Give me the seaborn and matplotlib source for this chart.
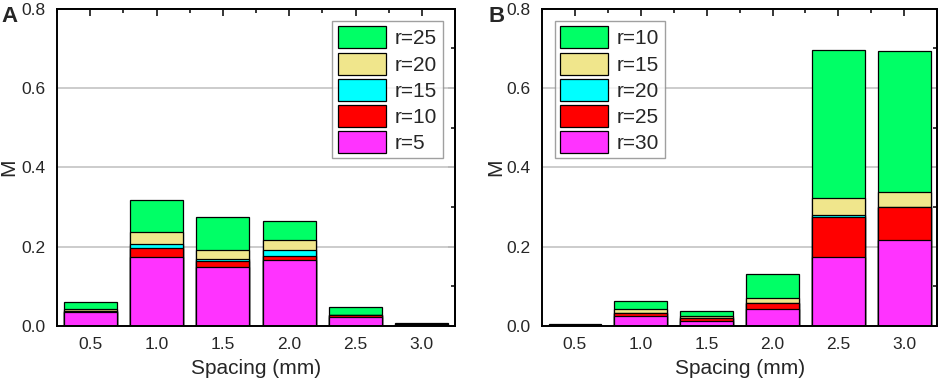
import numpy as np
import pandas as pd
import matplotlib
matplotlib.use("Agg")
import matplotlib.pyplot as plt
from matplotlib.patches import Patch
from matplotlib.ticker import MultipleLocator, FixedLocator, NullFormatter
import seaborn as sns

sns.set_style("white")
plt.rcParams['font.family'] = ['Liberation Sans', 'DejaVu Sans']

spacing = ["0.5", "1.0", "1.5", "2.0", "2.5", "3.0"]

# panel A, segment heights from bottom to top
a_labels = ["r=5", "r=10", "r=15", "r=20", "r=25"]
a_r5 = [0.036, 0.175, 0.148, 0.166, 0.0235, 0.002]
a_r10 = [0.002, 0.021, 0.016, 0.010, 0.0035, 0.001]
a_r15 = [0.001, 0.010, 0.005, 0.015, 0.0015, 0.0005]
a_r20 = [0.003, 0.030, 0.023, 0.025, 0.0005, 0.0005]
a_r25 = [0.019, 0.081, 0.083, 0.049, 0.020, 0.003]

# panel B, segment heights from bottom to top
b_labels = ["r=30", "r=25", "r=20", "r=15", "r=10"]
b_r30 = [0.002, 0.024, 0.013, 0.042, 0.173, 0.218]
b_r25 = [0.001, 0.009, 0.006, 0.015, 0.101, 0.082]
b_r20 = [0.0003, 0.001, 0.002, 0.002, 0.007, 0.001]
b_r15 = [0.0005, 0.010, 0.003, 0.011, 0.043, 0.037]
b_r10 = [0.001, 0.020, 0.015, 0.061, 0.373, 0.355]

colors = ["#FF33FF", "#FF0000", "#00FFFF", "#F0E68C", "#00FF66"]  # bottom -> top


def stacked(ax, layers, labels, legend_loc, ylab_x):
    cum = np.cumsum(np.array(layers), axis=0)
    # draw tallest first, then overdraw lower layers
    for i in range(len(layers) - 1, -1, -1):
        df = pd.DataFrame({"spacing": spacing, "M": cum[i]})
        sns.barplot(data=df, x="spacing", y="M", color=colors[i], saturation=1,
                    edgecolor="black", linewidth=0.9, width=0.8, ax=ax, zorder=2)
    ax.set_ylim(0, 0.8)
    ax.set_xlim(-0.5, 5.5)
    ax.yaxis.set_major_locator(MultipleLocator(0.2))
    ax.yaxis.set_minor_locator(MultipleLocator(0.1))
    ax.xaxis.set_minor_locator(FixedLocator(np.arange(-0.5, 6, 1)))
    ax.set_yticklabels([f"{v:.1f}" for v in ax.get_yticks()])
    ax.grid(axis="y", which="major", color="#c8c8c8", linewidth=1.3, zorder=0)
    ax.set_axisbelow(True)
    ax.tick_params(axis="both", which="major", labelsize=12.5, length=5, width=1.3,
                   direction="out", pad=3)
    ax.tick_params(axis="both", which="minor", length=3, width=1.3, direction="out")
    # inward ticks on top and right
    top = ax.secondary_xaxis("top")
    top.set_xticks(range(6))
    top.xaxis.set_minor_locator(FixedLocator(np.arange(-0.5, 6, 1)))
    top.xaxis.set_major_formatter(NullFormatter())
    top.tick_params(which="major", direction="in", length=5, width=1.3)
    top.tick_params(which="minor", direction="in", length=3, width=1.3)
    right = ax.secondary_yaxis("right")
    right.yaxis.set_major_locator(MultipleLocator(0.2))
    right.yaxis.set_minor_locator(MultipleLocator(0.1))
    right.yaxis.set_major_formatter(NullFormatter())
    right.tick_params(which="major", direction="in", length=5, width=1.3)
    right.tick_params(which="minor", direction="in", length=3, width=1.3)
    for a in (top, right):
        for s in a.spines.values():
            s.set_linewidth(1.4)
    for s in ax.spines.values():
        s.set_linewidth(1.4)
        s.set_color("black")
    ax.set_xlabel("Spacing (mm)", fontsize=15, labelpad=5)
    ax.set_ylabel("M", fontsize=15)
    ax.yaxis.set_label_coords(ylab_x, 0.5)
    handles = [Patch(facecolor=colors[i], edgecolor="black", linewidth=0.9,
                     label=labels[i]) for i in range(len(labels) - 1, -1, -1)]
    ax.legend(handles=handles, loc=legend_loc, fontsize=15, frameon=True,
              fancybox=False, edgecolor="#888888", handlelength=2.3,
              handleheight=1.25, labelspacing=0.2, borderpad=0.25,
              handletextpad=0.45, borderaxespad=0.6)


fig = plt.figure(figsize=(9.41, 3.86), dpi=100)
ax_a = fig.add_axes([0.0606, 0.1554, 0.423, 0.822])
ax_b = fig.add_axes([0.576, 0.1554, 0.42, 0.822])

stacked(ax_a, [a_r5, a_r10, a_r15, a_r20, a_r25], a_labels, "upper right", -0.097)
stacked(ax_b, [b_r30, b_r25, b_r20, b_r15, b_r10], b_labels, "upper left", -0.092)

fig.text(0.002, 0.985, "A", fontsize=16, fontweight="bold", va="top", ha="left")
fig.text(0.519, 0.985, "B", fontsize=16, fontweight="bold", va="top", ha="left")

fig.savefig("out.png", dpi=100)
